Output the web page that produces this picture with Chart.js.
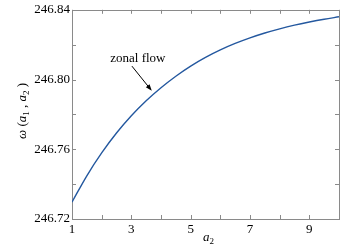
<!DOCTYPE html>
<html>
<head>
<meta charset="utf-8">
<script src="https://cdn.jsdelivr.net/npm/chart.js@4/dist/chart.umd.min.js"></script>
<style>
  html, body { margin: 0; padding: 0; background: #fff; }
  #wrap { width: 359px; height: 246px; position: relative; }
</style>
</head>
<body>
<div id="wrap"><canvas id="omegaChart"></canvas></div>
<script>
let a2Values = [1, 1.5, 2, 2.5, 3, 3.5, 4, 4.5, 5, 5.5, 6, 6.5, 7, 7.5, 8, 8.5, 9, 9.5, 10];
let omegaValues = [246.7297, 246.7448, 246.7579, 246.7693, 246.7792, 246.7878, 246.7953, 246.8019, 246.8077,
  246.8127, 246.8170, 246.8207, 246.8239, 246.8267, 246.8291, 246.8312, 246.8330, 246.8346, 246.8360];
let xTickLabels = ['1', '3', '5', '7', '9'];
let yTickLabels = ['246.72', '246.76', '246.80', '246.84'];
let noteText = 'zonal flow';
let noteAt = { x: 3.22, y: 246.8123 };
let arrowFrom = { x: 3.02, y: 246.8077 };
let arrowTo = { x: 3.69, y: 246.7935 };

let serif = '"Liberation Serif", "DejaVu Serif", serif';
let boxColor = '#8a8a8a';

// draw a list of text runs [text, font, dy] centred on (0,0)
function drawRuns(ctx, runs) {
  let total = 0;
  runs.forEach(r => { ctx.font = r[1]; total += ctx.measureText(r[0]).width; });
  let x = -total / 2;
  runs.forEach(r => {
    ctx.font = r[1];
    ctx.fillText(r[0], x, r[2]);
    x += ctx.measureText(r[0]).width;
  });
}

const framePlugin = {
  id: 'frame',
  beforeDatasetsDraw(chart) {
    let { ctx, chartArea: a, scales: { x, y } } = chart;
    ctx.save();
    ctx.strokeStyle = boxColor;
    ctx.lineWidth = 1;
    ctx.strokeRect(Math.round(a.left) + 0.5, Math.round(a.top) + 0.5,
      Math.round(a.right - a.left), Math.round(a.bottom - a.top));
    ctx.beginPath();
    x.ticks.forEach(t => {
      let px = Math.round(x.getPixelForValue(t.value)) + 0.5;
      ctx.moveTo(px, a.bottom); ctx.lineTo(px, a.bottom - 4);
      ctx.moveTo(px, a.top); ctx.lineTo(px, a.top + 4);
    });
    y.ticks.forEach(t => {
      let py = Math.round(y.getPixelForValue(t.value)) + 0.5;
      ctx.moveTo(a.left, py); ctx.lineTo(a.left + 4, py);
      ctx.moveTo(a.right, py); ctx.lineTo(a.right - 4, py);
    });
    ctx.stroke();
    ctx.restore();
  },
  afterDatasetsDraw(chart) {
    let { ctx, chartArea: a, scales: { x, y } } = chart;
    ctx.save();
    ctx.fillStyle = '#000';
    ctx.textBaseline = 'middle';

    // annotation
    ctx.textAlign = 'center';
    ctx.font = '13px ' + serif;
    ctx.fillText(noteText, x.getPixelForValue(noteAt.x), y.getPixelForValue(noteAt.y));
    let x0 = x.getPixelForValue(arrowFrom.x), y0 = y.getPixelForValue(arrowFrom.y);
    let x1 = x.getPixelForValue(arrowTo.x), y1 = y.getPixelForValue(arrowTo.y);
    let ang = Math.atan2(y1 - y0, x1 - x0);
    ctx.strokeStyle = '#000';
    ctx.lineWidth = 1;
    ctx.beginPath();
    ctx.moveTo(x0, y0); ctx.lineTo(x1 - 3 * Math.cos(ang), y1 - 3 * Math.sin(ang));
    ctx.stroke();
    ctx.beginPath();
    ctx.moveTo(x1, y1);
    ctx.lineTo(x1 - 7 * Math.cos(ang - 0.35), y1 - 7 * Math.sin(ang - 0.35));
    ctx.lineTo(x1 - 7 * Math.cos(ang + 0.35), y1 - 7 * Math.sin(ang + 0.35));
    ctx.closePath();
    ctx.fill();

    // axis titles
    ctx.textAlign = 'left';
    let it = 'italic 13px ' + serif, up = '13px ' + serif;
    ctx.save();
    ctx.translate(a.left + (a.right - a.left) / 2 + 3, 238);
    drawRuns(ctx, [['a', it, 0], ['2', '9px ' + serif, 4]]);
    ctx.restore();
    ctx.save();
    ctx.translate(23, 111);
    ctx.rotate(-Math.PI / 2);
    drawRuns(ctx, [['ω', it, 0], [' (', up, 0], ['a', it, 0], ['1', '9px ' + serif, 4],
      [' , ', up, 0], ['a', it, 0], ['2', '9px ' + serif, 4], [' )', up, 0]]);
    ctx.restore();
    ctx.restore();
  }
};

let ctx = document.getElementById('omegaChart').getContext('2d');
let chart = new Chart(ctx, {
  type: 'line',
  data: {
    datasets: [{
      label: 'zonal flow',
      data: a2Values.map((v, i) => ({ x: v, y: omegaValues[i] })),
      borderColor: '#24589f',
      borderWidth: 1.4,
      pointRadius: 0,
      fill: false,
      cubicInterpolationMode: 'monotone'
    }]
  },
  options: {
    responsive: true,
    maintainAspectRatio: false,
    animation: false,
    layout: { padding: { top: 9, right: 20, left: 0, bottom: 0 } },
    plugins: { legend: { display: false }, tooltip: { enabled: false } },
    scales: {
      x: {
        type: 'linear',
        min: 1,
        max: 10,
        grid: { display: false, drawTicks: false },
        border: { display: false },
        afterFit: s => { s.height = 27; },
        ticks: {
          stepSize: 1,
          autoSkip: false,
          maxRotation: 0,
          padding: 3,
          color: '#000',
          font: { family: serif, size: 13 },
          callback: v => xTickLabels.includes(String(v)) ? String(v) : ''
        }
      },
      y: {
        type: 'linear',
        min: 246.72,
        max: 246.84,
        grid: { display: false, drawTicks: false },
        border: { display: false },
        afterFit: s => { s.width = 72; },
        ticks: {
          stepSize: 0.02,
          autoSkip: false,
          padding: 2,
          color: '#000',
          font: { family: serif, size: 13 },
          callback: v => yTickLabels.includes(Number(v).toFixed(2)) ? Number(v).toFixed(2) : ''
        }
      }
    }
  },
  plugins: [framePlugin]
});
</script>
</body>
</html>
